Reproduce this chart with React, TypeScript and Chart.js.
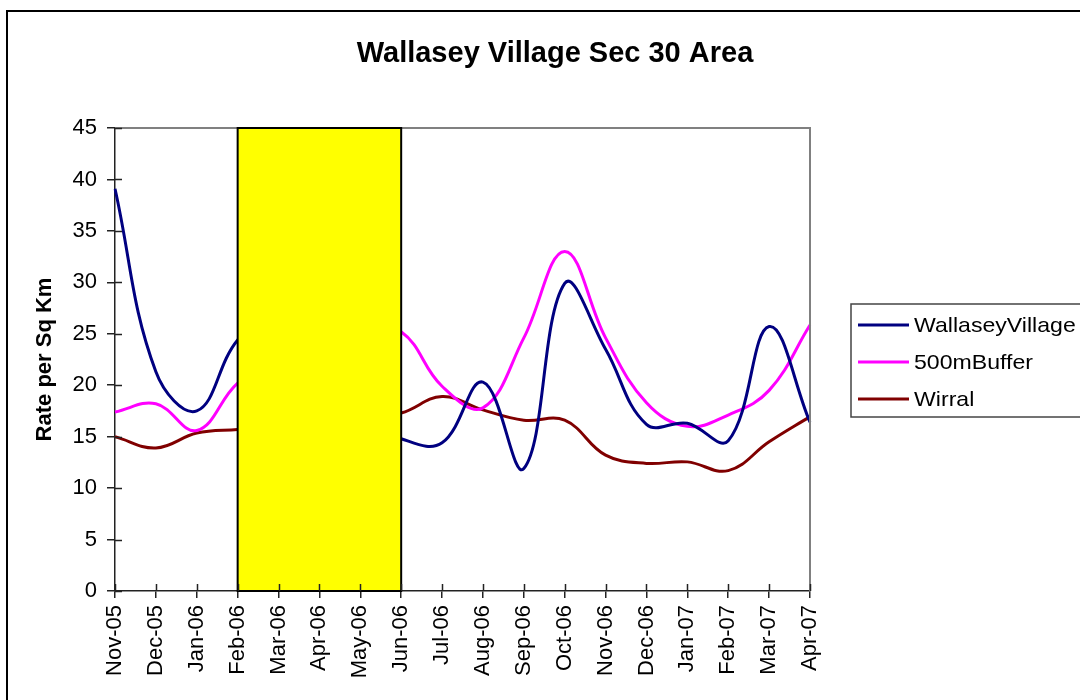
import React, { useEffect, useRef } from "react";
import { Chart, registerables } from "chart.js";

Chart.register(...registerables);

// ---- Data ----
const months = [
  "Nov-05", "Dec-05", "Jan-06", "Feb-06", "Mar-06", "Apr-06", "May-06", "Jun-06", "Jul-06",
  "Aug-06", "Sep-06", "Oct-06", "Nov-06", "Dec-06", "Jan-07", "Feb-07", "Mar-07", "Apr-07",
];
const wallaseyVillage = [39.1, 21.3, 17.5, 24.4, 27.0, 22.0, 17.0, 14.8, 14.4, 20.3, 11.9, 29.9, 23.5, 16.2, 16.3, 14.6, 25.7, 16.4];
const buffer500m = [17.4, 18.2, 15.6, 20.2, 22.5, 24.0, 25.5, 25.2, 19.9, 17.8, 24.6, 33.0, 24.6, 18.3, 16.0, 17.1, 19.5, 25.85];
const wirral = [15.0, 13.9, 15.35, 15.7, 16.0, 16.3, 16.8, 17.3, 18.9, 17.6, 16.6, 16.6, 13.2, 12.4, 12.55, 11.7, 14.5, 16.95];

const seriesNames = ["WallaseyVillage", "500mBuffer", "Wirral"];
const seriesColors = ["#000080", "#FF00FF", "#800000"];
const highlightMonths = ["Feb-06", "Jun-06"];
const yRange = [0, 45];
const yStep = 5;
const chartTitle = "Wallasey Village Sec 30 Area";
const yAxisTitle = "Rate per Sq Km";

const FONT = '"Liberation Sans", Arial, Helvetica, sans-serif';

const framePlugin = {
  id: "framePlugin",
  beforeDraw(chart: any) {
    const { ctx, width, height } = chart;
    ctx.save();
    ctx.fillStyle = "#ffffff";
    ctx.fillRect(0, 0, width, height);
    ctx.strokeStyle = "#000000";
    ctx.lineWidth = 2;
    ctx.beginPath();
    ctx.moveTo(7, height + 5);
    ctx.lineTo(7, 11);
    ctx.lineTo(width + 5, 11);
    ctx.stroke();
    ctx.fillStyle = "#000000";
    ctx.font = `bold 29px ${FONT}`;
    ctx.textAlign = "center";
    ctx.textBaseline = "alphabetic";
    ctx.fillText(chartTitle, 555, 62);
    ctx.restore();
  },
};

const highlightPlugin = {
  id: "highlightPlugin",
  afterDatasetsDraw(chart: any) {
    const { ctx, chartArea } = chart;
    const xs = chart.scales.x;
    const ys = chart.scales.y;
    const x1 = xs.getPixelForValue(months.indexOf(highlightMonths[0]));
    const x2 = xs.getPixelForValue(months.indexOf(highlightMonths[1]));
    const yTop = ys.getPixelForValue(yRange[1]);
    const yBot = ys.getPixelForValue(yRange[0]);
    ctx.save();
    // gray plot border top/right
    ctx.strokeStyle = "#808080";
    ctx.lineWidth = 2;
    ctx.beginPath();
    ctx.moveTo(chartArea.left, chartArea.top);
    ctx.lineTo(chartArea.right, chartArea.top);
    ctx.lineTo(chartArea.right, chartArea.bottom);
    ctx.stroke();
    // yellow box
    ctx.fillStyle = "#FFFF00";
    ctx.fillRect(x1, yTop, x2 - x1, yBot - yTop);
    ctx.strokeStyle = "#000000";
    ctx.lineWidth = 2;
    ctx.strokeRect(x1, yTop, x2 - x1, yBot - yTop);
    // inner tick stubs (cross tick marks)
    ctx.strokeStyle = "#222222";
    ctx.lineWidth = 1.5;
    ctx.beginPath();
    for (let v = yRange[0]; v <= yRange[1]; v += yStep) {
      const py = Math.round(ys.getPixelForValue(v)) + 0.5;
      ctx.moveTo(chartArea.left, py);
      ctx.lineTo(chartArea.left + 7, py);
    }
    for (let i = 0; i < months.length; i++) {
      const px = Math.round(xs.getPixelForValue(i)) + 0.5;
      ctx.moveTo(px, chartArea.bottom);
      ctx.lineTo(px, chartArea.bottom - 7);
    }
    ctx.stroke();
    ctx.restore();
  },
};

const legendPlugin = {
  id: "customLegend",
  afterDraw(chart: any) {
    const { ctx } = chart;
    const left = 851;
    const top = 304;
    const bottom = 417;
    ctx.save();
    ctx.fillStyle = "#ffffff";
    ctx.fillRect(left, top, 240, bottom - top);
    ctx.strokeStyle = "#444444";
    ctx.lineWidth = 1.5;
    ctx.strokeRect(left, top, 240, bottom - top);
    const rows = [325, 362, 399];
    chart.data.datasets.forEach((ds: any, i: number) => {
      const y = rows[i];
      ctx.strokeStyle = ds.borderColor;
      ctx.lineWidth = 3;
      ctx.beginPath();
      ctx.moveTo(858, y);
      ctx.lineTo(909, y);
      ctx.stroke();
      ctx.save();
      ctx.translate(914, y);
      ctx.scale(1.1, 1);
      ctx.fillStyle = "#000000";
      ctx.font = `21px ${FONT}`;
      ctx.textAlign = "left";
      ctx.textBaseline = "middle";
      ctx.fillText(ds.label, 0, 1);
      ctx.restore();
    });
    ctx.restore();
  },
};

export default function App() {
  const canvasRef = useRef<HTMLCanvasElement | null>(null);

  useEffect(() => {
    document.body.style.margin = "0";
    document.body.style.overflow = "hidden";
    const canvas = canvasRef.current;
    if (!canvas) return;
    const seriesData = [wallaseyVillage, buffer500m, wirral];
    const chart = new Chart(canvas, {
      type: "line",
      data: {
        labels: months,
        datasets: seriesData.map((d, i) => ({
          label: seriesNames[i],
          data: d,
          borderColor: seriesColors[i],
          backgroundColor: seriesColors[i],
          borderWidth: 3,
          pointRadius: 0,
          tension: 0.4,
          fill: false,
        })),
      },
      options: {
        responsive: false,
        animation: false,
        devicePixelRatio: 1,
        layout: { padding: { top: 128, right: 270, bottom: 0, left: 0 } },
        plugins: {
          legend: { display: false },
          title: { display: false },
          tooltip: { enabled: false },
        },
        scales: {
          x: {
            type: "category",
            offset: false,
            afterFit: (scale: any) => {
              scale.height = 109;
            },
            grid: {
              display: true,
              drawOnChartArea: false,
              drawTicks: true,
              tickLength: 7,
              color: "#222222",
              lineWidth: 1.5,
            },
            border: { display: true, color: "#222222", width: 1.5 },
            ticks: {
              autoSkip: false,
              minRotation: 90,
              maxRotation: 90,
              padding: 7,
              color: "#000000",
              font: { family: FONT, size: 22 },
            },
          },
          y: {
            min: yRange[0],
            max: yRange[1],
            afterFit: (scale: any) => {
              scale.width = 115;
            },
            grid: {
              display: true,
              drawOnChartArea: false,
              drawTicks: true,
              tickLength: 8,
              color: "#222222",
              lineWidth: 1.5,
            },
            border: { display: true, color: "#222222", width: 1.5 },
            ticks: {
              stepSize: yStep,
              padding: 10,
              color: "#000000",
              font: { family: FONT, size: 22 },
            },
            title: {
              display: true,
              text: yAxisTitle,
              color: "#000000",
              font: { family: FONT, size: 22, weight: "bold" },
              padding: { top: 32, bottom: 0 },
            },
          },
        },
      },
      plugins: [framePlugin, highlightPlugin, legendPlugin],
    });
    return () => chart.destroy();
  }, []);

  return (
    <div style={{ width: 1080, height: 700 }}>
      <canvas ref={canvasRef} width={1080} height={700} style={{ display: "block" }} />
    </div>
  );
}
